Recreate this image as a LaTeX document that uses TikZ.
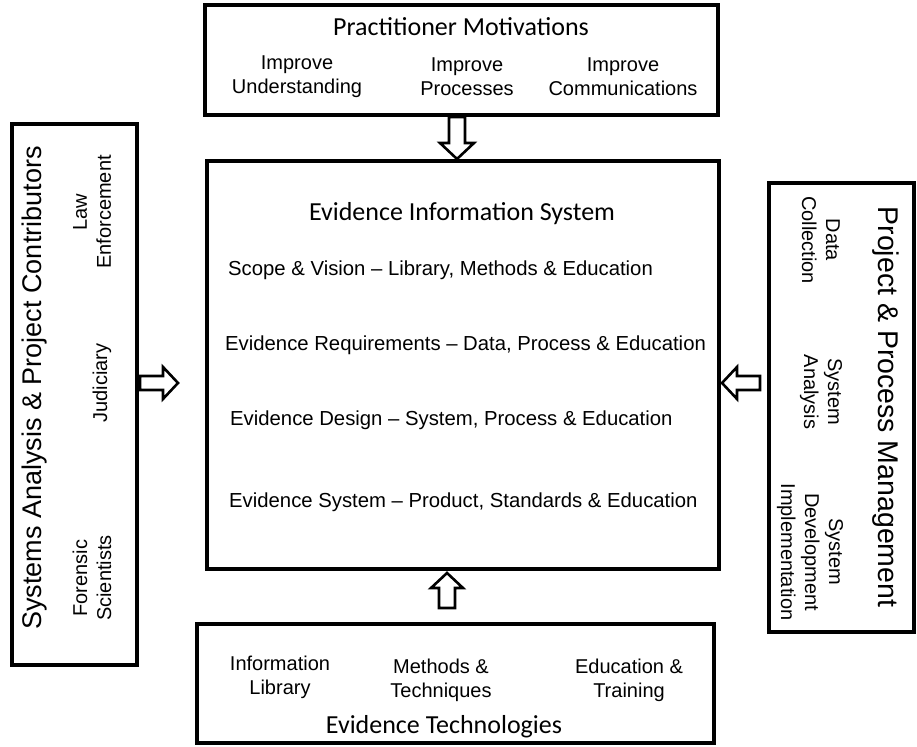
\documentclass[tikz,border=0pt]{standalone}
\usepackage{fontspec}
\setmainfont{Liberation Sans}
\newfontfamily\carlito{Carlito}
\newfontfamily\arialish[Ligatures=TeX]{Liberation Sans}
\begin{document}
\begin{tikzpicture}[x=1pt,y=1pt,
  box/.style={draw, line width=3.5pt, inner sep=0pt},
  lbl/.style={align=center, font=\arialish\fontsize{20}{24}\selectfont, inner sep=0pt},
  line/.style={anchor=west, font=\arialish\fontsize{20.3}{23}\selectfont, inner sep=0pt},
  ttl/.style={font=\carlito\fontsize{26}{28}\selectfont, inner sep=0pt},
  rtl/.style={font=\arialish\fontsize{27}{30}\selectfont, inner sep=0pt},
  rtlr/.style={font=\arialish\fontsize{28.5}{30}\selectfont, inner sep=0pt},
  blk/.style={draw, fill=white, line width=2.6pt, line join=miter}]
\useasboundingbox (0,0) rectangle (917,746);
% boxes
\node[box, minimum width=513pt, minimum height=110pt] (top) at (461.5,746-60) {};
\node[box, minimum width=512pt, minimum height=408pt] (mid) at (463,746-365) {};
\node[box, minimum width=517pt, minimum height=119pt] (bot) at (455.5,746-683.5) {};
\node[box, minimum width=125pt, minimum height=541pt] (left) at (74.5,746-394.5) {};
\node[box, minimum width=145pt, minimum height=449pt] (right) at (841.5,746-407.5) {};
% top box text
\node[ttl] (pm) at (461,746-27) {Practitioner Motivations};
\node[lbl] (iu) at (297,746-77) {Improve\\Understanding};
\node[lbl] (ip) at (467,746-77) {Improve\\Processes};
\node[lbl] (ic) at (623,746-77) {Improve\\Communications};
% middle box text
\node[ttl] (eis) at (462,746-214) {Evidence Information System};
\node[line] (l1) at (228,746-270) {Scope \& Vision – Library, Methods \& Education};
\node[line] (l2) at (225,746-345) {Evidence Requirements – Data, Process \& Education};
\node[line] (l3) at (230,746-420) {Evidence Design – System, Process \& Education};
\node[line] (l4) at (229,746-502) {Evidence System – Product, Standards \& Education};
% bottom box text
\node[lbl] (il) at (280,746-677) {Information\\Library};
\node[lbl] (mt) at (441,746-680) {Methods \&\\Techniques};
\node[lbl] (et) at (629,746-680) {Education \&\\Training};
\node[ttl] (etech) at (444,746-727) {Evidence Technologies};
% left box text
\node[rtl, rotate=90] (sapc) at (35,746-388) {Systems Analysis \& Project Contributors};
\node[lbl, rotate=90] (law) at (92,746-212) {Law\\Enforcement};
\node[lbl, rotate=90] (jud) at (102,746-383) {Judiciary};
\node[lbl, rotate=90] (fs) at (92,746-578) {Forensic\\Scientists};
% right box text
\node[rtlr, rotate=-90] (ppm) at (886,746-407) {Project \& Process Management};
\node[lbl, rotate=-90] (dc) at (821,746-240) {Data\\Collection};
\node[lbl, rotate=-90] (sa) at (821,746-392) {System\\Analysis};
\node[lbl, rotate=-90] (sdi) at (810,746-552) {System\\Development\\Implementation};
% block arrows
\draw[blk, shift={(457,746-159)}, rotate=-90] (0,0) -- (-16,17) -- (-16,8) -- (-42,8) -- (-42,-8) -- (-16,-8) -- (-16,-17) -- cycle;
\draw[blk, shift={(447,746-573)}, rotate=90] (0,0) -- (-15,16) -- (-15,8) -- (-35,8) -- (-35,-8) -- (-15,-8) -- (-15,-16) -- cycle;
\draw[blk, shift={(178,746-383)}] (0,0) -- (-15,16) -- (-15,7) -- (-38,7) -- (-38,-7) -- (-15,-7) -- (-15,-16) -- cycle;
\draw[blk, shift={(722,746-383)}, rotate=180] (0,0) -- (-15,16) -- (-15,7) -- (-38,7) -- (-38,-7) -- (-15,-7) -- (-15,-16) -- cycle;
\end{tikzpicture}
\end{document}
